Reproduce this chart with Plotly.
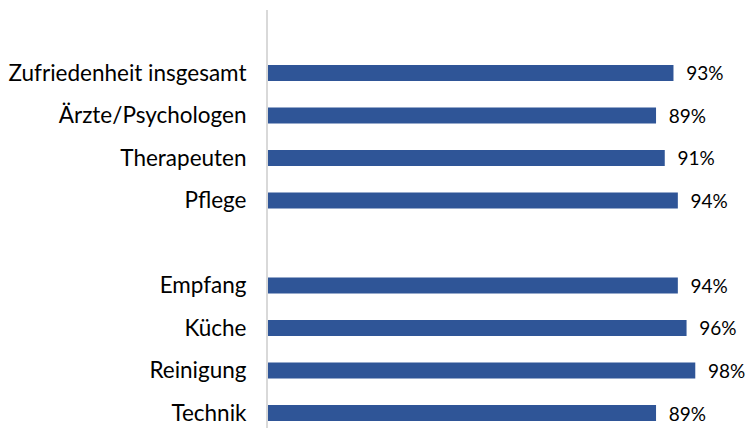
import plotly.graph_objects as go

categories = ["Zufriedenheit insgesamt", "Ärzte/Psychologen", "Therapeuten", "Pflege", " ",
              "Empfang", "Küche", "Reinigung", "Technik"]
values = [93, 89, 91, 94, None, 94, 96, 98, 89]
labels = [f"&nbsp;&nbsp;{v}%" if v is not None else "" for v in values]

fig = go.Figure()
fig.add_trace(go.Bar(
    x=values, y=categories, orientation="h",
    marker=dict(color="#2F5597", line=dict(width=0)),
    text=labels, textposition="outside", cliponaxis=False, constraintext="none",
    textfont=dict(family="Lato", size=19, color="#000000"),
    hoverinfo="skip",
))

# page body has an 8px margin, so the figure is sized/positioned to compensate
fig.update_layout(
    width=745, height=420,
    margin=dict(l=260, r=49, t=2, b=0),
    paper_bgcolor="white", plot_bgcolor="white",
    bargap=0.624, showlegend=False,
    font=dict(family="Lato", size=22, color="#000000"),
)
fig.update_xaxes(range=[0, 100], visible=False)
fig.update_yaxes(
    type="category", categoryorder="array", categoryarray=categories,
    range=[8.353, -1.482], showline=True, linecolor="#D9D9D9", linewidth=2,
    showgrid=False, zeroline=False, automargin=False,
    ticks="outside", ticklen=15, tickcolor="rgba(0,0,0,0)",
    tickfont=dict(family="Lato", size=22.5, color="#000000"),
)

fig.write_html("out.html")
